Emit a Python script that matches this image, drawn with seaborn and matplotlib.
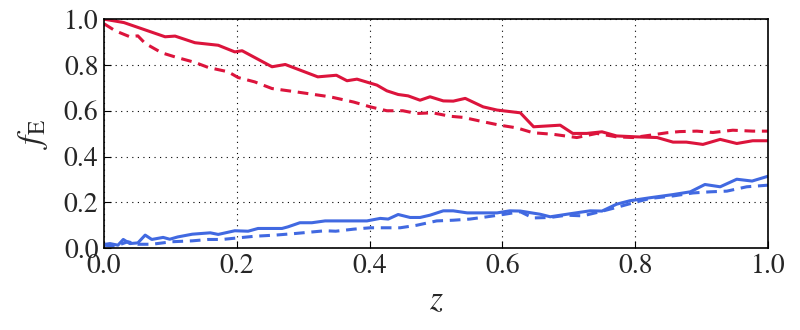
import numpy as np
import pandas as pd
import seaborn as sns
import matplotlib
matplotlib.use("Agg")
import matplotlib.pyplot as plt

# values
z_red_solid = [0.0, 0.03, 0.066, 0.092, 0.107, 0.137, 0.172, 0.197, 0.208, 0.253, 0.273, 0.322,
               0.350, 0.366, 0.381, 0.411, 0.426, 0.443, 0.458, 0.476, 0.491, 0.511, 0.526, 0.544,
               0.571, 0.592, 0.627, 0.647, 0.687, 0.706, 0.727, 0.75, 0.772, 0.802, 0.833, 0.857,
               0.877, 0.902, 0.928, 0.953, 0.977, 1.0]
f_red_solid = [1.0, 0.985, 0.949, 0.923, 0.926, 0.897, 0.886, 0.857, 0.862, 0.792, 0.802, 0.748,
               0.755, 0.731, 0.738, 0.712, 0.687, 0.671, 0.665, 0.646, 0.661, 0.643, 0.642, 0.654,
               0.617, 0.603, 0.591, 0.530, 0.537, 0.501, 0.501, 0.508, 0.490, 0.486, 0.483, 0.463,
               0.463, 0.453, 0.475, 0.457, 0.469, 0.469]

z_red_dash = [0.0, 0.017, 0.039, 0.051, 0.062, 0.087, 0.107, 0.137, 0.157, 0.187, 0.202, 0.227,
              0.253, 0.288, 0.333, 0.345, 0.376, 0.401, 0.426, 0.45, 0.471, 0.495, 0.521, 0.541,
              0.571, 0.596, 0.622, 0.646, 0.677, 0.712, 0.742, 0.772, 0.797, 0.822, 0.848, 0.867,
              0.893, 0.917, 0.947, 0.977, 1.0]
f_red_dash = [0.98, 0.949, 0.923, 0.927, 0.894, 0.853, 0.835, 0.811, 0.789, 0.770, 0.745, 0.726,
              0.697, 0.683, 0.664, 0.658, 0.638, 0.617, 0.600, 0.600, 0.588, 0.591, 0.576, 0.571,
              0.552, 0.537, 0.525, 0.504, 0.497, 0.483, 0.501, 0.486, 0.483, 0.493, 0.504, 0.509,
              0.511, 0.505, 0.515, 0.511, 0.511]

z_blue_solid = [0.0, 0.009, 0.021, 0.029, 0.039, 0.051, 0.062, 0.072, 0.089, 0.099, 0.111, 0.133,
                0.16, 0.172, 0.197, 0.217, 0.232, 0.268, 0.277, 0.295, 0.313, 0.333, 0.396, 0.416,
                0.428, 0.443, 0.461, 0.476, 0.491, 0.511, 0.526, 0.547, 0.592, 0.611, 0.627, 0.657,
                0.672, 0.706, 0.732, 0.75, 0.772, 0.792, 0.822, 0.857, 0.883, 0.905, 0.928, 0.953,
                0.976, 1.0]
f_blue_solid = [0.016, 0.02, 0.013, 0.038, 0.02, 0.023, 0.057, 0.038, 0.047, 0.039, 0.049, 0.061,
                0.067, 0.060, 0.076, 0.074, 0.086, 0.086, 0.093, 0.111, 0.111, 0.119, 0.119, 0.130,
                0.127, 0.147, 0.134, 0.134, 0.144, 0.163, 0.163, 0.154, 0.154, 0.163, 0.162, 0.148,
                0.137, 0.152, 0.163, 0.162, 0.192, 0.207, 0.220, 0.234, 0.246, 0.278, 0.268, 0.301,
                0.293, 0.314]

z_blue_dash = [0.0, 0.017, 0.036, 0.051, 0.072, 0.102, 0.133, 0.157, 0.178, 0.202, 0.227, 0.258,
               0.288, 0.333, 0.349, 0.376, 0.401, 0.446, 0.471, 0.501, 0.526, 0.551, 0.577, 0.601,
               0.627, 0.646, 0.672, 0.697, 0.721, 0.747, 0.772, 0.797, 0.822, 0.857, 0.887, 0.913,
               0.938, 0.968, 1.0]
f_blue_dash = [0.013, 0.009, 0.028, 0.017, 0.017, 0.028, 0.032, 0.038, 0.038, 0.045, 0.052, 0.057,
               0.064, 0.076, 0.074, 0.083, 0.089, 0.089, 0.100, 0.119, 0.122, 0.127, 0.137, 0.147,
               0.159, 0.132, 0.134, 0.144, 0.141, 0.159, 0.178, 0.198, 0.217, 0.228, 0.241, 0.246,
               0.249, 0.268, 0.275]

ticks = [0.0, 0.2, 0.4, 0.6, 0.8, 1.0]

sns.set_style("ticks")
plt.rcParams['font.family'] = ['STIXGeneral', 'Liberation Serif', 'DejaVu Serif']
plt.rcParams['mathtext.fontset'] = 'stix'

fig = plt.figure(figsize=(8, 3.3), dpi=100)
ax = fig.add_axes([0.13, 0.248, 0.83, 0.694])

red = '#dc143c'
blue = '#4169e1'
sns.lineplot(x=z_red_solid, y=f_red_solid, color=red, lw=2.2, ax=ax, sort=False)
sns.lineplot(x=z_red_dash, y=f_red_dash, color=red, lw=2.2, ax=ax, sort=False).lines[-1].set_dashes([3.5, 2.2])
sns.lineplot(x=z_blue_solid, y=f_blue_solid, color=blue, lw=2.2, ax=ax, sort=False)
sns.lineplot(x=z_blue_dash, y=f_blue_dash, color=blue, lw=2.2, ax=ax, sort=False).lines[-1].set_dashes([3.5, 2.2])

ax.set_xlim(0, 1)
ax.set_ylim(0, 1)
ax.set_xticks(ticks)
ax.set_yticks(ticks)
ax.set_xticklabels([f"{t:.1f}" for t in ticks])
ax.set_yticklabels([f"{t:.1f}" for t in ticks])
ax.tick_params(direction='in', labelsize=20, length=5, width=0.8, pad=4, color='black')
ax.grid(True, linestyle=(0, (1, 4)), color='black', linewidth=0.8)
for s in ax.spines.values():
    s.set_color('black')
    s.set_linewidth(1.2)

ax.set_xlabel(r'$z$', fontsize=24, labelpad=6)
ax.set_ylabel(r'$f_{\mathrm{E}}$', fontsize=24, labelpad=10)

fig.savefig('out.png', dpi=100)
